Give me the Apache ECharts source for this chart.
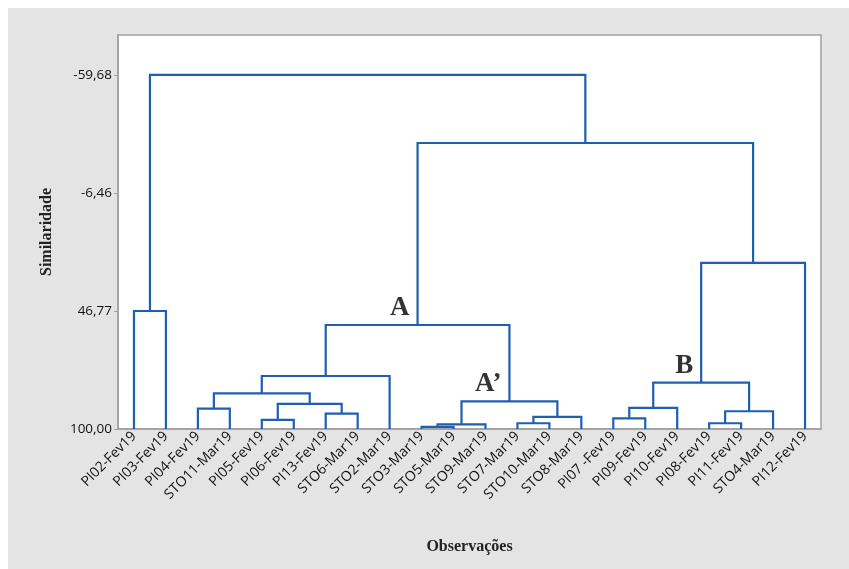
<!DOCTYPE html>
<html>
<head>
<meta charset="utf-8">
<script src="https://cdn.jsdelivr.net/npm/echarts@6/dist/echarts.min.js"></script>
<style>
  html, body { margin: 0; padding: 0; background: #fff; }
  #chart { position: absolute; left: 8px; top: 8px; width: 841px; height: 561px; }
</style>
</head>
<body>
<div id="chart"></div>
<script>
// leaves, left to right
var leaves = [
  'PI02-Fev19', 'PI03-Fev19', 'PI04-Fev19', 'STO11-Mar19', 'PI05-Fev19', 'PI06-Fev19',
  'PI13-Fev19', 'STO6-Mar19', 'STO2-Mar19', 'STO3-Mar19', 'STO5-Mar19', 'STO9-Mar19',
  'STO7-Mar19', 'STO10-Mar19', 'STO8-Mar19', 'PI07 -Fev19', 'PI09-Fev19', 'PI10-Fev19',
  'PI08-Fev19', 'PI11-Fev19', 'STO4-Mar19', 'PI12-Fev19'
];
// merges: cluster id = 22 + index, joins left and right node at a similarity
var mergeLeft  = [9, 12, 18, 22, 4, 15, 23, 6, 24, 2, 27, 26, 25, 31, 32, 35, 37, 0, 36, 38, 39];
var mergeRight = [10, 13, 19, 11, 5, 16, 14, 7, 20, 3, 17, 29, 28, 33, 30, 8, 34, 1, 21, 40, 41];
var mergeSim   = [99.0, 97.4, 97.4, 97.9, 95.9, 95.2, 94.5, 93.1, 92.0, 90.8, 90.5,
                  88.7, 87.5, 83.9, 79.1, 76.1, 53.1, 46.77, 25.1, -29.0, -59.68];
var leafSim = 100;
var yTicks = [100, 46.77, -6.46, -59.68];
var annotText = ['A', 'A\u2019', 'B'];
var annotNode = [38, 34, 36];

// node positions (x = leaf index, y = similarity)
var nodeX = leaves.map(function (d, i) { return i; });
var nodeY = leaves.map(function () { return leafSim; });
var links = [];
for (var i = 0; i < mergeSim.length; i++) {
  var l = mergeLeft[i], r = mergeRight[i];
  nodeX.push((nodeX[l] + nodeX[r]) / 2);
  nodeY.push(mergeSim[i]);
  links.push([nodeX[l], nodeY[l], nodeX[r], nodeY[r], mergeSim[i]]);
}
var annotData = annotNode.map(function (n, i) {
  return [nodeX[n], nodeY[n], annotText[i]];
});

var blue = '#1f5fb0';
var option = {
  backgroundColor: '#e4e4e4',
  animation: false,
  grid: {
    left: 110, right: 28, top: 27, bottom: 140,
    show: true, backgroundColor: '#fff', borderColor: '#a0a0a0', borderWidth: 1.5
  },
  xAxis: [
    {
      type: 'category',
      data: leaves,
      name: 'Observações',
      nameLocation: 'middle',
      nameGap: 110,
      nameTextStyle: { fontFamily: 'Liberation Serif', fontWeight: 'bold', fontSize: 16, color: '#222' },
      axisLine: { onZero: false, lineStyle: { color: '#a0a0a0', width: 1.5 } },
      axisTick: { alignWithLabel: true, length: 4, lineStyle: { color: '#a0a0a0' } },
      axisLabel: { rotate: 45, fontFamily: 'Open Sans', fontSize: 14, color: '#111', margin: 5 },
      splitLine: { show: false }
    },
    {
      type: 'value', min: -0.5, max: leaves.length - 0.5, show: false,
      axisLine: { show: false, onZero: false }, splitLine: { show: false }
    }
  ],
  yAxis: {
    type: 'value',
    inverse: true,
    min: -77.7,
    max: 100,
    name: 'Similaridade',
    nameLocation: 'middle',
    nameGap: 63,
    nameTextStyle: { fontFamily: 'Liberation Serif', fontWeight: 'bold', fontSize: 16, color: '#222' },
    axisLine: { show: true, onZero: false, lineStyle: { color: '#a0a0a0', width: 1.5 } },
    axisTick: { show: true, length: 4, customValues: yTicks, lineStyle: { color: '#a0a0a0' } },
    axisLabel: {
      customValues: yTicks,
      fontFamily: 'Open Sans', fontSize: 13.5, color: '#111', margin: 6,
      formatter: function (v) { return v.toFixed(2).replace('.', ','); }
    },
    splitLine: { show: false }
  },
  series: [
    {
      type: 'custom',
      xAxisIndex: 1,
      yAxisIndex: 0,
      data: links,
      encode: { x: [0, 2], y: [1, 3, 4] },
      renderItem: function (params, api) {
        var a = api.coord([api.value(0), api.value(1)]);
        var b = api.coord([api.value(0), api.value(4)]);
        var c = api.coord([api.value(2), api.value(4)]);
        var d = api.coord([api.value(2), api.value(3)]);
        return {
          type: 'polyline',
          shape: { points: [a, b, c, d] },
          style: { stroke: blue, lineWidth: 2.2, fill: null }
        };
      }
    },
    {
      type: 'scatter',
      xAxisIndex: 1,
      yAxisIndex: 0,
      symbolSize: 0,
      data: annotData,
      label: {
        show: true,
        position: 'left',
        distance: 8,
        offset: [0, -17],
        formatter: function (p) { return p.value[2]; },
        fontFamily: 'Liberation Serif', fontWeight: 'bold', fontSize: 27, color: '#000'
      }
    }
  ]
};
var myChart = echarts.init(document.getElementById('chart'));
myChart.setOption(option);
</script>
</body>
</html>
